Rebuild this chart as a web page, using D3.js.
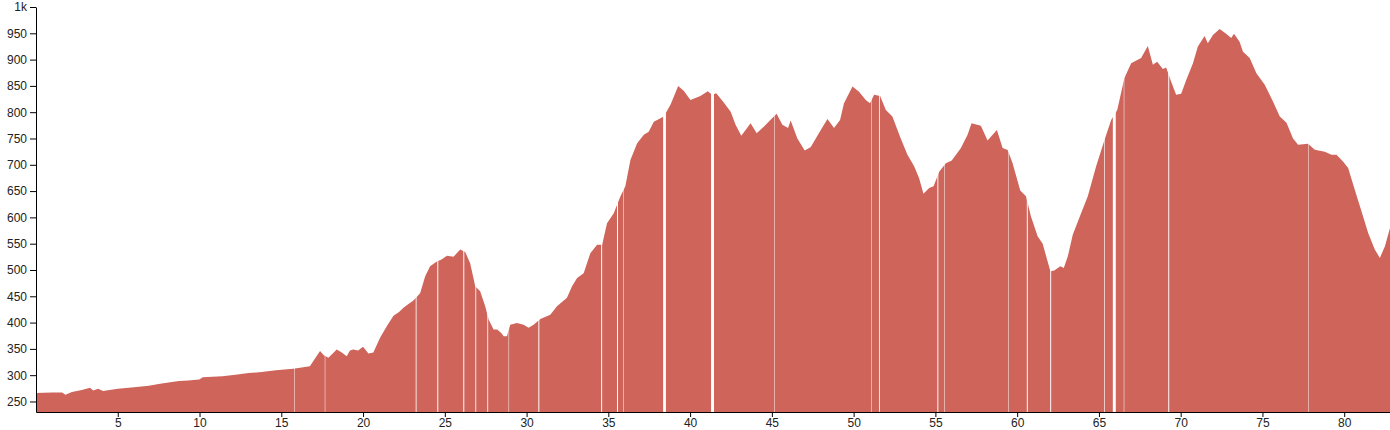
<!DOCTYPE html>
<html>
<head>
<meta charset="utf-8">
<script src="https://cdn.jsdelivr.net/npm/d3@7"></script>
<style>
  html, body { margin: 0; padding: 0; background: #fff; }
  svg { display: block; }
  .axis text { font-family: "Liberation Sans", Arial, sans-serif; font-size: 12px; fill: #222; }
</style>
</head>
<body>
<svg id="chart" width="1390" height="430"></svg>
<script>
// distance along the route (km)
const distanceKm = [
  0, 0.5, 1.0, 1.6, 1.8, 2.2, 2.8, 3.3, 3.5, 3.8, 4.1, 4.5, 5.0, 6.0, 6.9, 7.5, 8.1, 8.75, 9.3, 9.98,
  10.2, 10.8, 11.4, 12.2, 13.0, 13.8, 14.67, 15.73, 16.75, 16.96, 17.37, 17.6, 17.88, 18.1, 18.39, 18.7,
  19.0, 19.2, 19.4, 19.7, 20.0, 20.33, 20.63, 21.04, 21.45, 21.86, 22.2, 22.47, 22.8, 23.08, 23.49, 23.8,
  24.1, 24.51, 24.8, 25.13, 25.53, 25.94, 26.25, 26.55, 26.86, 27.16, 27.47, 27.68, 27.98, 28.2, 28.45,
  28.6, 28.8, 29.0, 29.41, 29.82, 30.12, 30.43, 30.84, 31.45, 31.86, 32.47, 32.78, 33.09, 33.49, 33.9,
  34.31, 34.62, 34.92, 35.33, 35.74, 36.04, 36.35, 36.76, 37.17, 37.47, 37.78, 38.39, 38.8, 39.27, 39.61,
  40.02, 40.63, 41.08, 41.35, 41.6, 42.07, 42.48, 42.78, 43.13, 43.7, 44.07, 44.52, 45.03, 45.29, 45.64,
  45.99, 46.15, 46.56, 47.01, 47.38, 47.99, 48.4, 48.8, 49.17, 49.41, 49.93, 50.33, 50.74, 51.0, 51.25,
  51.62, 51.97, 52.37, 52.88, 53.29, 53.7, 54.0, 54.27, 54.62, 54.89, 55.23, 55.64, 56.0, 56.56, 56.97,
  57.21, 57.78, 58.19, 58.76, 59.11, 59.42, 59.72, 60.19, 60.54, 60.84, 61.25, 61.56, 62.03, 62.27, 62.64,
  62.85, 63.1, 63.4, 63.91, 64.32, 64.83, 65.34, 65.75, 66.12, 66.56, 66.97, 67.58, 67.99, 68.3, 68.56,
  68.91, 69.11, 69.42, 69.72, 70.03, 70.34, 70.75, 71.05, 71.46, 71.66, 71.97, 72.38, 72.78, 73.09, 73.26,
  73.6, 73.81, 74.22, 74.63, 75.14, 75.65, 76.06, 76.47, 76.87, 77.18, 77.79, 78.2, 78.81, 79.22, 79.53,
  79.94, 80.24, 80.65, 81.06, 81.47, 81.87, 82.18, 82.49, 82.8
];
// elevation (m)
const elevationM = [
  266, 266.5, 267, 267, 263, 268, 272, 276, 271, 274, 270, 272, 274, 277, 280, 283, 286, 289, 290, 292,
  296, 297, 298, 301, 304, 306, 309.5, 312, 317, 327, 346, 338, 333, 340, 349, 343,
  336, 347, 349, 347, 354, 341, 343, 371, 393, 413, 420, 428, 436, 442, 456, 488,
  507, 516, 520, 527, 525, 539, 534, 513, 469, 459.5, 431, 406, 387, 387, 380,
  374, 374, 396, 399, 396, 390, 396, 407, 415, 431, 447, 469, 485, 494, 532,
  548, 548, 589, 608, 640, 659, 709, 741, 757, 763, 782, 792, 814, 850, 841,
  823, 831, 840, 833, 836, 818, 801, 776, 755, 779, 760, 773, 789, 797, 776,
  770, 784, 750, 727, 734, 766, 787, 770, 785, 817, 849, 839, 823, 817, 833,
  831, 804, 792, 750, 719, 697, 675, 645, 656, 659, 687, 703, 708, 732, 757,
  779, 774, 746, 766, 732, 728, 703, 651, 640, 602, 564, 550, 497.5, 499, 507,
  504, 526, 567, 608, 640, 697, 747, 785, 804, 865, 893, 903, 926, 890, 896,
  882, 885, 858, 833, 835, 861, 893, 925, 945, 931, 947, 958, 949, 941, 949,
  934, 915, 903, 874, 852, 820, 792, 780, 750, 738, 740, 728.5, 725, 719, 719,
  706, 694, 652, 611, 570, 539, 523, 545, 580
];
// stretches of the track with no recorded samples (km)
const gapStartKm = [15.78, 17.66, 23.22, 24.54, 26.13, 26.87, 27.60, 28.90, 30.72, 34.56, 35.53, 35.90,
  38.35, 41.28, 45.13, 51.09, 51.55, 55.12, 55.53, 59.45, 60.59, 62.02, 65.32, 65.85, 66.52, 69.24, 77.79];
const gapEndKm   = [15.81, 17.69, 23.27, 24.60, 26.19, 26.92, 27.65, 28.93, 30.78, 34.62, 35.59, 35.93,
  38.52, 41.46, 45.16, 51.12, 51.60, 55.18, 55.56, 59.48, 60.65, 62.08, 65.36, 66.03, 66.55, 69.30, 77.82];
const xTickValues = [5, 10, 15, 20, 25, 30, 35, 40, 45, 50, 55, 60, 65, 70, 75, 80];
const yTickValues = [250, 300, 350, 400, 450, 500, 550, 600, 650, 700, 750, 800, 850, 900, 950, 1000];

const W = 1390, H = 430;
const margin = { top: 7, right: 0, bottom: 18, left: 36 };
const svg = d3.select("#chart");

const points = distanceKm.map((d, i) => ({ d, e: elevationM[i] }));

const x = d3.scaleLinear().domain([0, 82.8]).range([margin.left, W - margin.right]);
const y = d3.scaleLinear().domain([230, 1000]).range([H - margin.bottom, margin.top]);

const area = d3.area()
  .x(p => x(p.d))
  .y0(y(230))
  .y1(p => y(p.e));

svg.append("path")
  .datum(points)
  .attr("fill", "#ce645a")
  .attr("d", area);

svg.append("g")
  .selectAll("rect")
  .data(gapStartKm.map((s, i) => ({ s, e: gapEndKm[i] })))
  .join("rect")
  .attr("x", g => x(g.s))
  .attr("width", g => x(g.e) - x(g.s))
  .attr("y", y(1000))
  .attr("height", y(230) - y(1000))
  .attr("fill", "#ffffff");

const xAxis = d3.axisBottom(x).tickValues(xTickValues).tickSize(5).tickPadding(1).tickSizeOuter(0);
const yAxis = d3.axisLeft(y).tickValues(yTickValues).tickFormat(d3.format("~s")).tickSizeOuter(0);

svg.append("g").attr("class", "axis")
  .attr("transform", `translate(0,${H - margin.bottom})`)
  .call(xAxis);

svg.append("g").attr("class", "axis")
  .attr("transform", `translate(${margin.left},0)`)
  .call(yAxis);
</script>
</body>
</html>
